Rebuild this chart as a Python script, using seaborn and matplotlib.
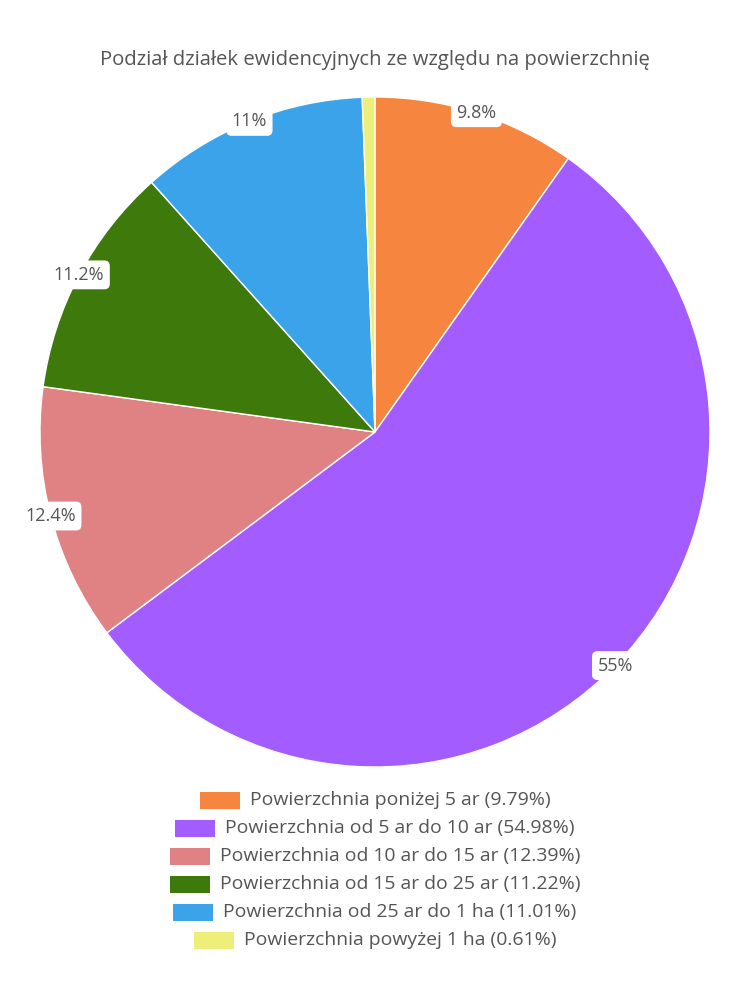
import matplotlib
matplotlib.use("Agg")
import matplotlib.pyplot as plt
import seaborn as sns
import numpy as np
from matplotlib.patches import Rectangle

categories = [
    "Powierzchnia poniżej 5 ar",
    "Powierzchnia od 5 ar do 10 ar",
    "Powierzchnia od 10 ar do 15 ar",
    "Powierzchnia od 15 ar do 25 ar",
    "Powierzchnia od 25 ar do 1 ha",
    "Powierzchnia powyżej 1 ha",
]
values = [9.79, 54.98, 12.39, 11.22, 11.01, 0.61]
slice_labels = ["9.8%", "55%", "12.4%", "11.2%", "11%", ""]
colors = ["#F5853F", "#A35CFF", "#E08283", "#3E7A0B", "#3AA3EA", "#EEEE7A"]
title = "Podział działek ewidencyjnych ze względu na powierzchnię"

sns.set_theme(style="white")
plt.rcParams['font.family'] = ['Open Sans', 'DejaVu Sans']
TXT = "#555555"

fig = plt.figure(figsize=(7.5, 10), dpi=100)
ax = fig.add_axes([40/750, (1000-767)/1000, 670/750, 670/1000])
wedges, _ = ax.pie(values, colors=colors, startangle=90, counterclock=False,
                   radius=1.0, wedgeprops=dict(edgecolor="white", linewidth=1))
ax.set_xlim(-1, 1)
ax.set_ylim(-1, 1)
ax.set_aspect("equal")
ax.axis("off")

total = sum(values)
cum = 0.0
for v, lab in zip(values, slice_labels):
    mid = 90 - (cum + v / 2) / total * 360
    cum += v
    if not lab:
        continue
    a = np.deg2rad(mid)
    ax.text(np.cos(a), np.sin(a), lab, ha="center", va="center", fontsize=13,
            color=TXT, zorder=5,
            bbox=dict(boxstyle="round,pad=0.3,rounding_size=0.3", fc="white", ec="none"))

fig.canvas.draw()
renderer = fig.canvas.get_renderer()

# title scaled to reference width
tt = fig.text(0.5, 1 - 60/1000, title, ha="center", va="center", fontsize=12, color=TXT)
tw = tt.get_window_extent(renderer).width
tt.set_fontsize(12 * 547 / tw)

# legend rows, each centered
row_y = [800, 828, 856, 884, 912, 940]
for i, (cat, v, c, y) in enumerate(zip(categories, values, colors, row_y)):
    label = f"{cat} ({v:.2f}%)"
    t = fig.text(0, 0, label, fontsize=13, color=TXT, va="center", ha="left")
    w = t.get_window_extent(renderer).width
    if i == 0:
        scale = 300 / w
    t.set_fontsize(13 * scale)
    w = t.get_window_extent(renderer).width
    sw, gap = 40, 10
    total_w = sw + gap + w
    x0 = 375 - total_w / 2
    fy = 1 - y / 1000
    fig.patches.append(Rectangle((x0 / 750, fy - 8.5 / 1000), sw / 750, 17 / 1000,
                                 transform=fig.transFigure, facecolor=c, edgecolor="none"))
    t.set_position(((x0 + sw + gap) / 750, fy))

fig.savefig("out.png", dpi=100)
